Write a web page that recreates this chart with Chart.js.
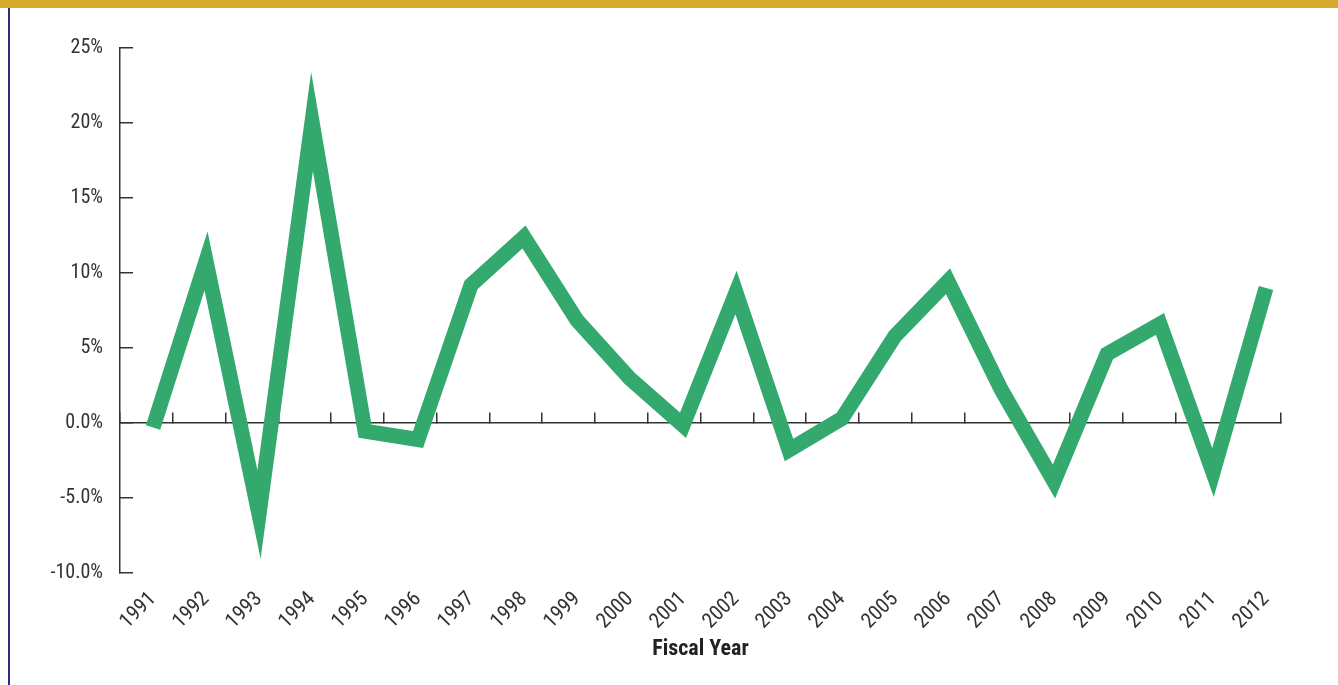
<!DOCTYPE html>
<html>
<head>
<meta charset="utf-8">
<script src="https://cdn.jsdelivr.net/npm/chart.js@4/dist/chart.umd.min.js"></script>
<style>
  html, body { margin: 0; padding: 0; background: #fff; }
  body { width: 1338px; height: 685px; position: relative; overflow: hidden; }
  #topbar { position: absolute; left: 0; top: 0; width: 1338px; height: 8px; background: #d8aa2b; }
  #leftline { position: absolute; left: 8px; top: 8px; width: 2px; height: 677px; background: #2c2e7c; }
  #wrap { position: absolute; left: 0; top: 0; width: 1338px; height: 685px; }
</style>
</head>
<body>
<div id="topbar"></div>
<div id="leftline"></div>
<div id="wrap"><canvas id="chart"></canvas></div>
<script>
const years = [1991, 1992, 1993, 1994, 1995, 1996, 1997, 1998, 1999, 2000, 2001,
               2002, 2003, 2004, 2005, 2006, 2007, 2008, 2009, 2010, 2011, 2012];
const growth = [-0.3, 10.8, -6.1, 20.1, -0.55, -1.1, 9.2, 12.4, 6.85, 2.95, -0.15,
                8.7, -1.8, 0.3, 5.8, 9.45, 2.25, -3.9, 4.6, 6.6, -3.3, 9.0];
const yTickValues = [-10, -5, 0, 5, 10, 15, 20, 25];
const yTickLabels = ["-10.0%", "-5.0%", "0.0%", "5%", "10%", "15%", "20%", "25%"];

const font = "'Liberation Sans Narrow', 'Roboto Condensed', 'DejaVu Sans Condensed', Arial, sans-serif";
const ink = "#333333";

const ctx = document.getElementById("chart").getContext("2d");
new Chart(ctx, {
    type: "line",
    data: {
        datasets: [
            {
                label: "Growth",
                data: years.map((y, i) => ({ x: y, y: growth[i] })),
                borderColor: "#33a96e",
                borderWidth: 15,
                borderJoinStyle: "miter",
                borderCapStyle: "butt",
                pointRadius: 0,
                tension: 0,
                fill: false,
                xAxisID: "x",
                yAxisID: "y",
            },
        ],
    },
    options: {
        responsive: true,
        maintainAspectRatio: false,
        animation: false,
        layout: { padding: { top: 48, right: 57, left: 0, bottom: 0 } },
        plugins: { legend: { display: false }, tooltip: { enabled: false } },
        scales: {
            x: {
                type: "linear",
                position: "bottom",
                min: 1990.377,
                max: 2012.283,
                afterBuildTicks: (scale) => {
                    scale.ticks = years.map((y) => ({ value: y }));
                },
                afterFit: (scale) => {
                    scale.height = 112;
                },
                grid: { display: false, drawTicks: false },
                border: { display: false },
                ticks: {
                    autoSkip: false,
                    minRotation: 45,
                    maxRotation: 45,
                    padding: 14,
                    color: ink,
                    font: { family: font, size: 21 },
                    callback: (v) => String(v),
                },
                title: {
                    display: true,
                    text: "Fiscal Year",
                    color: "#222",
                    font: { family: font, size: 22, weight: "bold" },
                    padding: { top: 0, bottom: 22 },
                },
            },
            x2: {
                type: "category",
                labels: years.map(String),
                position: { y: 0 },
                offset: true,
                grid: {
                    offset: true,
                    drawOnChartArea: false,
                    drawTicks: true,
                    tickLength: -11,
                    color: ink,
                    lineWidth: 1.5,
                },
                border: { display: true, color: ink, width: 1.5 },
                ticks: { display: false },
            },
            y: {
                min: -10,
                max: 25,
                position: "left",
                afterBuildTicks: (scale) => {
                    scale.ticks = yTickValues.map((v) => ({ value: v }));
                },
                afterFit: (scale) => {
                    scale.width = 120;
                },
                grid: {
                    drawOnChartArea: false,
                    drawTicks: true,
                    tickLength: -13,
                    color: ink,
                    lineWidth: 1.5,
                },
                border: { display: true, color: ink, width: 1.5 },
                ticks: {
                    padding: 30,
                    color: ink,
                    font: { family: font, size: 20 },
                    callback: (v) => yTickLabels[yTickValues.indexOf(v)],
                },
            },
        },
    },
});
</script>
</body>
</html>
